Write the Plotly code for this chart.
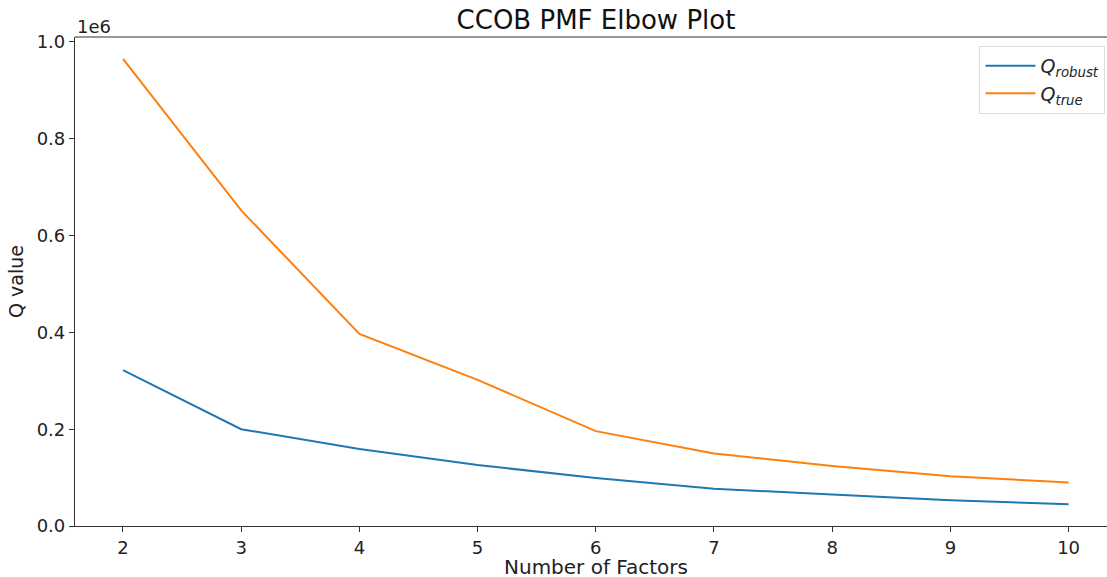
import plotly.graph_objects as go

factors = [2, 3, 4, 5, 6, 7, 8, 9, 10]
q_robust = [322000, 200000, 159000, 126000, 99000, 77000, 65000, 53000, 45000]
q_true = [965000, 652000, 397000, 302000, 196000, 150000, 124000, 103000, 90000]
y_ticks = [0, 200000, 400000, 600000, 800000, 1000000]
y_tick_labels = ["0.0", "0.2", "0.4", "0.6", "0.8", "1.0"]

W, H = 1107, 577
ml, mr, mt, mb = 75, 0, 37, 51

fig = go.Figure()
fig.add_trace(go.Scatter(x=factors, y=q_robust, mode="lines",
                         name="<i>Q</i><sub><i>robust</i></sub>",
                         line=dict(color="#1f77b4", width=2)))
fig.add_trace(go.Scatter(x=factors, y=q_true, mode="lines",
                         name="<i>Q</i><sub><i>true</i></sub>",
                         line=dict(color="#ff7f0e", width=2)))

font_family = "DejaVu Sans"
center_x = 596 / W
fig.update_layout(
    width=W, height=H,
    margin=dict(l=ml, r=mr, t=mt, b=mb),
    paper_bgcolor="white", plot_bgcolor="white",
    font=dict(family=font_family, size=18, color="#222222"),
    title=dict(text="CCOB PMF Elbow Plot", x=center_x, xanchor="center",
               xref="paper", y=1 - 20 / H, yanchor="middle",
               font=dict(size=26, family=font_family, color="#111111")),
    showlegend=True,
    legend=dict(x=0.9985, y=0.982, xanchor="right", yanchor="top",
                bgcolor="rgba(255,255,255,0.8)", bordercolor="#dddddd", borderwidth=1,
                font=dict(size=19, family=font_family), tracegroupgap=0,
                itemwidth=50),
    xaxis=dict(range=[1.594, 10.325], tickmode="array", tickvals=factors,
               ticktext=[str(v) for v in factors],
               showgrid=False, zeroline=False, showline=True, linecolor="#333333",
               linewidth=1.2, ticks="outside", ticklen=5, tickcolor="#333333",
               tickfont=dict(size=18)),
    yaxis=dict(range=[0, 1.0103e6], tickmode="array", tickvals=y_ticks,
               ticktext=y_tick_labels,
               showgrid=False, zeroline=False, showline=True, linecolor="#333333",
               linewidth=1.2, ticks="outside", ticklen=5, tickcolor="#333333",
               tickfont=dict(size=18),
               title=dict(text="Q value", font=dict(size=19), standoff=8)),
)

# title x in layout uses container coords; convert
fig.update_layout(title=dict(xref="container", x=596 / W))

# top spine
fig.add_shape(type="line", xref="paper", yref="paper", x0=0, x1=1, y0=1, y1=1,
              line=dict(color="#333333", width=1.2))
# offset text
fig.add_annotation(text="1e6", xref="paper", yref="paper", x=0, y=1,
                   xanchor="left", yanchor="bottom", showarrow=False,
                   font=dict(size=18, family=font_family), yshift=-2)
# x-axis label centered on the (cropped) axes
fig.add_annotation(text="Number of Factors", xref="paper", yref="paper",
                   x=(596 - ml) / (W - ml - mr), y=0, xanchor="center", yanchor="middle",
                   yshift=-(567 - (H - mb)), showarrow=False,
                   font=dict(size=20, family=font_family))

fig.write_html("out.html")
